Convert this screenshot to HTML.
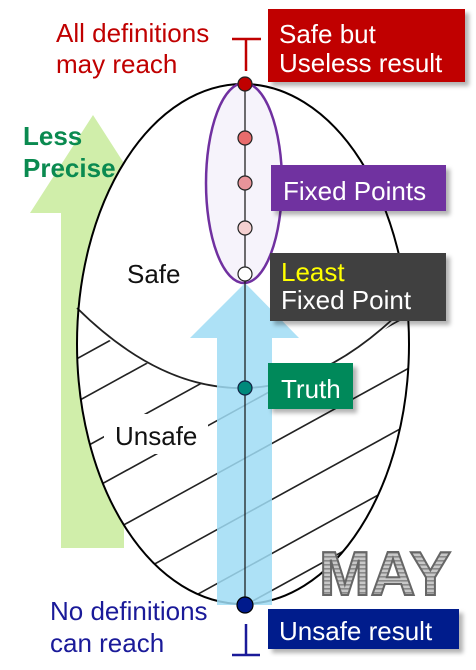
<!DOCTYPE html>
<html><head><meta charset="utf-8"><style>
html,body{margin:0;padding:0;background:#fff;width:476px;height:670px;overflow:hidden;}
svg{display:block;font-family:"Liberation Sans",sans-serif;}
</style></head><body>
<svg width="476" height="670" viewBox="0 0 476 670">
<defs>
<clipPath id="unsafeClip"><path d="M60,300 Q160,392 245,388 Q330,386 420,298 L420,620 L60,620 Z"/></clipPath>
<clipPath id="ellClip"><ellipse cx="243" cy="344" rx="166" ry="260"/></clipPath>
<pattern id="stripes" width="4" height="4" patternUnits="userSpaceOnUse"><rect width="4" height="4" fill="#c8c8c8"/><rect width="4" height="1.6" fill="#8a8a8a"/></pattern>
<filter id="sh" x="-5%" y="-5%" width="115%" height="125%"><feDropShadow dx="4" dy="4" stdDeviation="2" flood-color="#000" flood-opacity="0.3"/></filter>
</defs>
<g>
<polygon points="93,115 156,213 124,213 124,548 61,548 61,213 30,213" fill="#d0eeaa"/>
</g>
<ellipse cx="243" cy="344" rx="166" ry="260" fill="#fff"/>
<text x="23" y="145" font-size="26" font-weight="bold" fill="#0a8a50">Less</text>
<text x="23" y="177" font-size="26" font-weight="bold" fill="#0a8a50">Precise</text>
<g clip-path="url(#ellClip)">
<g clip-path="url(#unsafeClip)" stroke="#222" stroke-width="1.6">
<line x1="0" y1="401" x2="480" y2="137"/>
<line x1="0" y1="444" x2="480" y2="180"/>
<line x1="0" y1="494" x2="480" y2="230"/>
<line x1="0" y1="540" x2="480" y2="276"/>
<line x1="0" y1="593" x2="480" y2="329"/>
<line x1="0" y1="649" x2="480" y2="385"/>
<line x1="0" y1="703" x2="480" y2="439"/>
<line x1="0" y1="740" x2="480" y2="476"/>
</g>
</g>
<path d="M77,308 Q160,390 245,388 Q330,386 412,300" fill="none" stroke="#222" stroke-width="1.8"/>
<ellipse cx="243" cy="344" rx="166" ry="260" fill="none" stroke="#000" stroke-width="2"/>
<rect x="104" y="414" width="104" height="40" fill="#fff"/>
<text x="115" y="445" font-size="26" fill="#111">Unsafe</text>
<text x="127" y="283" font-size="26" fill="#111">Safe</text>
<ellipse cx="244" cy="183" rx="38" ry="100" fill="#f6f3fb" stroke="#7030a0" stroke-width="2.5"/>
<g>
<polygon points="245,283 299,338 272,338 272,605 217,605 217,338 190,338" fill="#9fdcf5" fill-opacity="0.85"/>
</g>
<line x1="245" y1="84" x2="245" y2="605" stroke="#111" stroke-width="1.2"/>
<circle cx="245" cy="84" r="7" fill="#c00000" stroke="#222" stroke-width="1.2"/>
<circle cx="245" cy="138" r="7" fill="#e86c6c" stroke="#222" stroke-width="1.2"/>
<circle cx="245" cy="183" r="7" fill="#e8949a" stroke="#222" stroke-width="1.2"/>
<circle cx="245" cy="228" r="7" fill="#f5d0d0" stroke="#222" stroke-width="1.2"/>
<circle cx="245" cy="274" r="7" fill="#fff" stroke="#222" stroke-width="1.2"/>
<circle cx="245" cy="388" r="7" fill="#00897b" stroke="#124" stroke-width="1.2"/>
<circle cx="245" cy="605" r="8" fill="#001a8c" stroke="#000" stroke-width="1.2"/>
<g stroke="#c00000" stroke-width="2.5"><line x1="232" y1="39" x2="261" y2="39"/><line x1="246" y1="39" x2="246" y2="71"/></g>
<g stroke="#1a1a99" stroke-width="2.5"><line x1="246" y1="624" x2="246" y2="655"/><line x1="232" y1="655" x2="260" y2="655"/></g>
<text font-size="26" fill="#c00000"><tspan x="56" y="42">All definitions</tspan><tspan x="56" y="73">may reach</tspan></text>
<text font-size="26" fill="#1a1a99"><tspan x="50" y="620">No definitions</tspan><tspan x="50" y="652">can reach</tspan></text>
<g><rect x="268" y="9" width="197" height="73" fill="#c00000" filter="url(#sh)"/>
<text font-size="26" fill="#fff"><tspan x="279" y="43">Safe but</tspan><tspan x="279" y="72">Useless result</tspan></text></g>
<g><rect x="271" y="165" width="175" height="46" fill="#7030a0" filter="url(#sh)"/>
<text x="283" y="200" font-size="26" fill="#fff">Fixed Points</text></g>
<g><rect x="270" y="253" width="176" height="68" fill="#404040" filter="url(#sh)"/>
<text font-size="26"><tspan x="281" y="281" fill="#ffff00">Least</tspan><tspan x="281" y="309" fill="#fff">Fixed Point</tspan></text></g>
<g><rect x="268" y="363" width="85" height="46" fill="#00895a" filter="url(#sh)"/>
<text x="281" y="398" font-size="26" fill="#fff">Truth</text></g>
<g><rect x="268" y="609" width="191" height="40" fill="#001a8c" filter="url(#sh)"/>
<text x="279" y="640" font-size="26" fill="#fff">Unsafe result</text></g>
<text x="319" y="595" font-size="62" font-weight="bold" fill="url(#stripes)" stroke="#666" stroke-width="2">MAY</text>
</svg>
</body></html>
